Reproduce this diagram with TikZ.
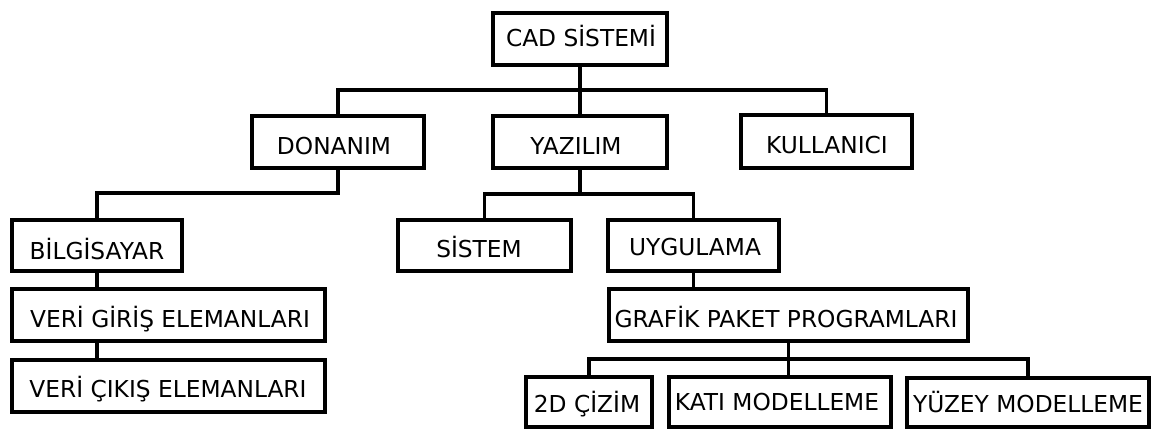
\documentclass[tikz,border=0pt]{standalone}
\usepackage{fontspec}
\setmainfont{DejaVu Sans}
\tikzset{
  bx/.style={draw=black, line width=3.5pt, inner sep=0pt, fill=white},
  lbl/.style={anchor=base, inner sep=0pt, font=\fontsize{23.3}{27}\selectfont},
  conn/.style={draw=black, line width=3.2pt, line join=miter}
}
\begin{document}
\begin{tikzpicture}[x=1pt, y=-1pt]
\useasboundingbox[fill=white] (0,0) rectangle (1153,430);
% connector levels
\coordinate (b1) at (0,90);
\coordinate (b2) at (0,193);
\coordinate (b3) at (0,194);
\coordinate (b4) at (0,359);
% boxes
\node[bx, minimum width=174pt, minimum height=52pt] (cad)   at (580,39)    {};
\node[bx, minimum width=172pt, minimum height=52pt] (don)   at (338,142)   {};
\node[bx, minimum width=174pt, minimum height=52pt] (yaz)   at (580,142)   {};
\node[bx, minimum width=171pt, minimum height=53pt] (kul)   at (826.5,141.5) {};
\node[bx, minimum width=170pt, minimum height=51pt] (bil)   at (97,245.5)  {};
\node[bx, minimum width=313pt, minimum height=52pt] (giris) at (168.5,315) {};
\node[bx, minimum width=313pt, minimum height=52pt] (cikis) at (168.5,386) {};
\node[bx, minimum width=173pt, minimum height=51pt] (sis)   at (484.5,245.5) {};
\node[bx, minimum width=171pt, minimum height=51pt] (uyg)   at (693.5,245.5) {};
\node[bx, minimum width=359pt, minimum height=52pt] (graf)  at (788.5,315) {};
\node[bx, minimum width=126pt, minimum height=50pt] (cizim) at (589,402)   {};
\node[bx, minimum width=222pt, minimum height=50pt] (kati)  at (780,402)   {};
\node[bx, minimum width=242pt, minimum height=49pt] (yuzey) at (1028,402.5) {};
% connectors
\draw[conn] (cad.south) -- (yaz.north);
\draw[conn] (don.north) -- (don.north |- b1) -- (kul.north |- b1) -- (kul.north);
\draw[conn] (don.south) -- (don.south |- b2) -- (bil.north |- b2) -- (bil.north);
\draw[conn] (bil.south) -- (bil.south |- giris.north);
\draw[conn] (bil.south |- giris.south) -- (bil.south |- cikis.north);
\draw[conn] (yaz.south) -- (yaz.south |- b3);
\draw[conn] (sis.north) -- (sis.north |- b3) -- (uyg.north |- b3) -- (uyg.north);
\draw[conn] (uyg.south) -- (uyg.south |- graf.north);
\draw[conn] (graf.south) -- (graf.south |- kati.north);
\draw[conn] (cizim.north) -- (cizim.north |- b4) -- (yuzey.north |- b4) -- (yuzey.north);
% labels
\node[lbl] (tcad)   at (581,47)  {CAD SİSTEMİ};
\node[lbl] (tdon)   at (334,155) {DONANIM};
\node[lbl] (tyaz)   at (576,155) {YAZILIM};
\node[lbl] (tkul)   at (827,154) {KULLANICI};
\node[lbl] (tbil)   at (97,259)  {BİLGİSAYAR};
\node[lbl] (tgiris) at (170,327) {VERİ GİRİŞ ELEMANLARI};
\node[lbl] (tcikis) at (168,397) {VERİ ÇIKIŞ ELEMANLARI};
\node[lbl] (tsis)   at (479,258) {SİSTEM};
\node[lbl] (tuyg)   at (695,255) {UYGULAMA};
\node[lbl] (tgraf)  at (786,327) {GRAFİK PAKET PROGRAMLARI};
\node[lbl] (tcizim) at (587,412) {2D ÇİZİM};
\node[lbl] (tkati)  at (777,410) {KATI MODELLEME};
\node[lbl] (tyuzey) at (1028,412) {YÜZEY MODELLEME};
\end{tikzpicture}
\end{document}
